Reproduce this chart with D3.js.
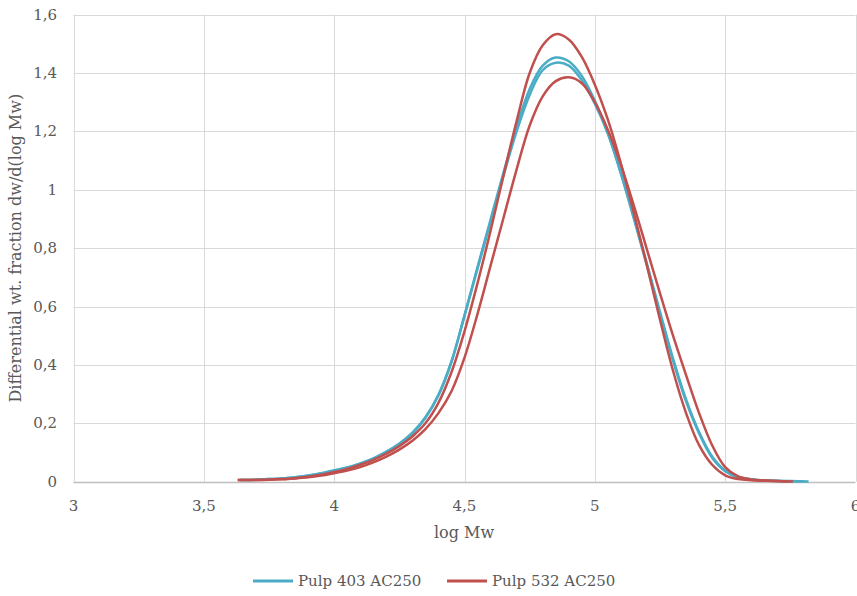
<!DOCTYPE html>
<html>
<head>
<meta charset="utf-8">
<script src="https://cdn.jsdelivr.net/npm/d3@7"></script>
<style>
  body { margin: 0; background: #fff; }
  svg text { font-family: "DejaVu Serif", serif; fill: #595959; }
</style>
</head>
<body>
<div id="chart"></div>
<script>
// values
const blue1X = [3.64, 3.70, 3.75, 3.80, 3.85, 3.90, 3.95, 4.00, 4.05, 4.10, 4.15, 4.20, 4.25, 4.30, 4.35, 4.40, 4.45, 4.50, 4.55, 4.60, 4.65, 4.70, 4.75, 4.80, 4.85, 4.90, 4.95, 5.00, 5.05, 5.10, 5.15, 5.20, 5.25, 5.30, 5.35, 5.40, 5.45, 5.50, 5.55, 5.60, 5.65, 5.70, 5.75, 5.82];
const blue1Y = [0.006, 0.007, 0.009, 0.011, 0.015, 0.020, 0.028, 0.038, 0.048, 0.061, 0.078, 0.100, 0.128, 0.165, 0.218, 0.295, 0.410, 0.570, 0.735, 0.898, 1.060, 1.215, 1.345, 1.425, 1.453, 1.440, 1.390, 1.305, 1.195, 1.055, 0.900, 0.740, 0.575, 0.415, 0.275, 0.165, 0.082, 0.036, 0.015, 0.008, 0.004, 0.003, 0.002, 0.001];

const blue2X = [3.64, 3.70, 3.75, 3.80, 3.85, 3.90, 3.95, 4.00, 4.05, 4.10, 4.15, 4.20, 4.25, 4.30, 4.35, 4.40, 4.45, 4.50, 4.55, 4.60, 4.65, 4.70, 4.75, 4.80, 4.85, 4.90, 4.95, 5.00, 5.05, 5.10, 5.15, 5.20, 5.25, 5.30, 5.35, 5.40, 5.45, 5.50, 5.55, 5.60, 5.65, 5.70, 5.80];
const blue2Y = [0.006, 0.007, 0.009, 0.011, 0.015, 0.021, 0.029, 0.039, 0.049, 0.063, 0.080, 0.103, 0.131, 0.168, 0.221, 0.298, 0.412, 0.568, 0.730, 0.890, 1.050, 1.200, 1.325, 1.410, 1.435, 1.425, 1.375, 1.295, 1.192, 1.058, 0.905, 0.746, 0.582, 0.422, 0.282, 0.170, 0.086, 0.038, 0.016, 0.008, 0.004, 0.002, 0.001];

const red1X = [3.63, 3.70, 3.75, 3.80, 3.85, 3.90, 3.95, 4.00, 4.05, 4.10, 4.15, 4.20, 4.25, 4.30, 4.35, 4.40, 4.45, 4.50, 4.55, 4.60, 4.65, 4.70, 4.75, 4.80, 4.85, 4.90, 4.95, 5.00, 5.05, 5.10, 5.15, 5.20, 5.25, 5.30, 5.35, 5.40, 5.45, 5.50, 5.55, 5.60, 5.65, 5.74];
const red1Y = [0.006, 0.006, 0.007, 0.009, 0.012, 0.017, 0.024, 0.033, 0.044, 0.058, 0.075, 0.096, 0.122, 0.155, 0.200, 0.270, 0.375, 0.515, 0.680, 0.860, 1.050, 1.235, 1.400, 1.495, 1.533, 1.515, 1.455, 1.360, 1.240, 1.090, 0.920, 0.740, 0.555, 0.380, 0.235, 0.125, 0.058, 0.022, 0.009, 0.005, 0.003, 0.001];

const red2X = [3.63, 3.70, 3.75, 3.80, 3.85, 3.90, 3.95, 4.00, 4.05, 4.10, 4.15, 4.20, 4.25, 4.30, 4.35, 4.40, 4.45, 4.50, 4.55, 4.60, 4.65, 4.70, 4.75, 4.80, 4.85, 4.90, 4.95, 5.00, 5.05, 5.10, 5.15, 5.20, 5.25, 5.30, 5.35, 5.40, 5.45, 5.50, 5.55, 5.60, 5.65, 5.70, 5.76];
const red2Y = [0.006, 0.006, 0.007, 0.008, 0.011, 0.015, 0.021, 0.029, 0.038, 0.050, 0.066, 0.086, 0.110, 0.140, 0.180, 0.235, 0.310, 0.425, 0.575, 0.740, 0.905, 1.070, 1.220, 1.320, 1.372, 1.385, 1.365, 1.300, 1.205, 1.085, 0.945, 0.795, 0.645, 0.500, 0.365, 0.235, 0.125, 0.050, 0.018, 0.008, 0.004, 0.002, 0.001];

const xTicks = [3, 3.5, 4, 4.5, 5, 5.5, 6];
const yTicks = [0, 0.2, 0.4, 0.6, 0.8, 1, 1.2, 1.4, 1.6];

const seriesNames = ["Pulp 403 AC250", "Pulp 532 AC250"];
const seriesColors = ["#4bacc6", "#c0504d"];

const curves = [
  { x: blue1X, y: blue1Y, color: seriesColors[0] },
  { x: blue2X, y: blue2Y, color: seriesColors[0] },
  { x: red1X, y: red1Y, color: seriesColors[1] },
  { x: red2X, y: red2Y, color: seriesColors[1] },
];

const width = 857;
const height = 596;
const margin = { top: 14.6, right: 1.5, bottom: 114.3, left: 73.5 };

const locale = d3.formatLocale({ decimal: ",", thousands: ".", grouping: [3], currency: ["", ""] });
const fmt = locale.format("~g");

const svg = d3
  .select("#chart")
  .append("svg")
  .attr("width", width)
  .attr("height", height);

const x = d3.scaleLinear().domain([3, 6]).range([margin.left, width - margin.right]);
const y = d3.scaleLinear().domain([0, 1.6]).range([height - margin.bottom, margin.top]);

// grid
svg
  .append("g")
  .selectAll("line")
  .data(yTicks.filter((d) => d > 0))
  .enter()
  .append("line")
  .attr("x1", x(3))
  .attr("x2", x(6))
  .attr("y1", (d) => Math.round(y(d)) + 0.5)
  .attr("y2", (d) => Math.round(y(d)) + 0.5)
  .attr("stroke", "#d9d9d9")
  .attr("stroke-width", 1);

svg
  .append("g")
  .selectAll("line")
  .data(xTicks)
  .enter()
  .append("line")
  .attr("x1", (d) => Math.round(x(d)) + 0.5)
  .attr("x2", (d) => Math.round(x(d)) + 0.5)
  .attr("y1", y(1.6))
  .attr("y2", y(0))
  .attr("stroke", "#d9d9d9")
  .attr("stroke-width", 1);

// x axis line
svg
  .append("line")
  .attr("x1", x(3))
  .attr("x2", x(6))
  .attr("y1", Math.round(y(0)) + 0.5)
  .attr("y2", Math.round(y(0)) + 0.5)
  .attr("stroke", "#bfbfbf")
  .attr("stroke-width", 1.5);

// tick labels
svg
  .append("g")
  .selectAll("text")
  .data(xTicks)
  .enter()
  .append("text")
  .attr("x", (d) => x(d))
  .attr("y", y(0) + 29)
  .attr("text-anchor", "middle")
  .attr("font-size", 15)
  .text((d) => fmt(d));

svg
  .append("g")
  .selectAll("text")
  .data(yTicks)
  .enter()
  .append("text")
  .attr("x", 57)
  .attr("y", (d) => y(d) + 5)
  .attr("text-anchor", "end")
  .attr("font-size", 15)
  .text((d) => fmt(d));

// axis titles
svg
  .append("text")
  .attr("x", 464)
  .attr("y", 538)
  .attr("text-anchor", "middle")
  .attr("font-size", 16)
  .text("log Mw");

svg
  .append("text")
  .attr("transform", `translate(21, ${y(0.8)}) rotate(-90)`)
  .attr("text-anchor", "middle")
  .attr("font-size", 16)
  .text("Differential wt. fraction dw/d(log Mw)");

// curves
const line = d3
  .line()
  .x((d) => x(d[0]))
  .y((d) => y(d[1]))
  .curve(d3.curveCatmullRom.alpha(0.5));

svg
  .append("g")
  .selectAll("path")
  .data(curves)
  .enter()
  .append("path")
  .attr("d", (c) => line(c.x.map((v, i) => [v, c.y[i]])))
  .attr("fill", "none")
  .attr("stroke", (c) => c.color)
  .attr("stroke-width", 2.5)
  .attr("stroke-linejoin", "round");

// legend
const legendX = [253, 447];
const legend = svg
  .append("g")
  .selectAll("g")
  .data(seriesNames)
  .enter()
  .append("g")
  .attr("transform", (d, i) => `translate(${legendX[i]}, 581)`);

legend
  .append("line")
  .attr("x1", 0)
  .attr("x2", 40)
  .attr("stroke", (d, i) => seriesColors[i])
  .attr("stroke-width", 3);

legend
  .append("text")
  .attr("x", 45)
  .attr("y", 5)
  .attr("font-size", 15)
  .text((d) => d);
</script>
</body>
</html>
